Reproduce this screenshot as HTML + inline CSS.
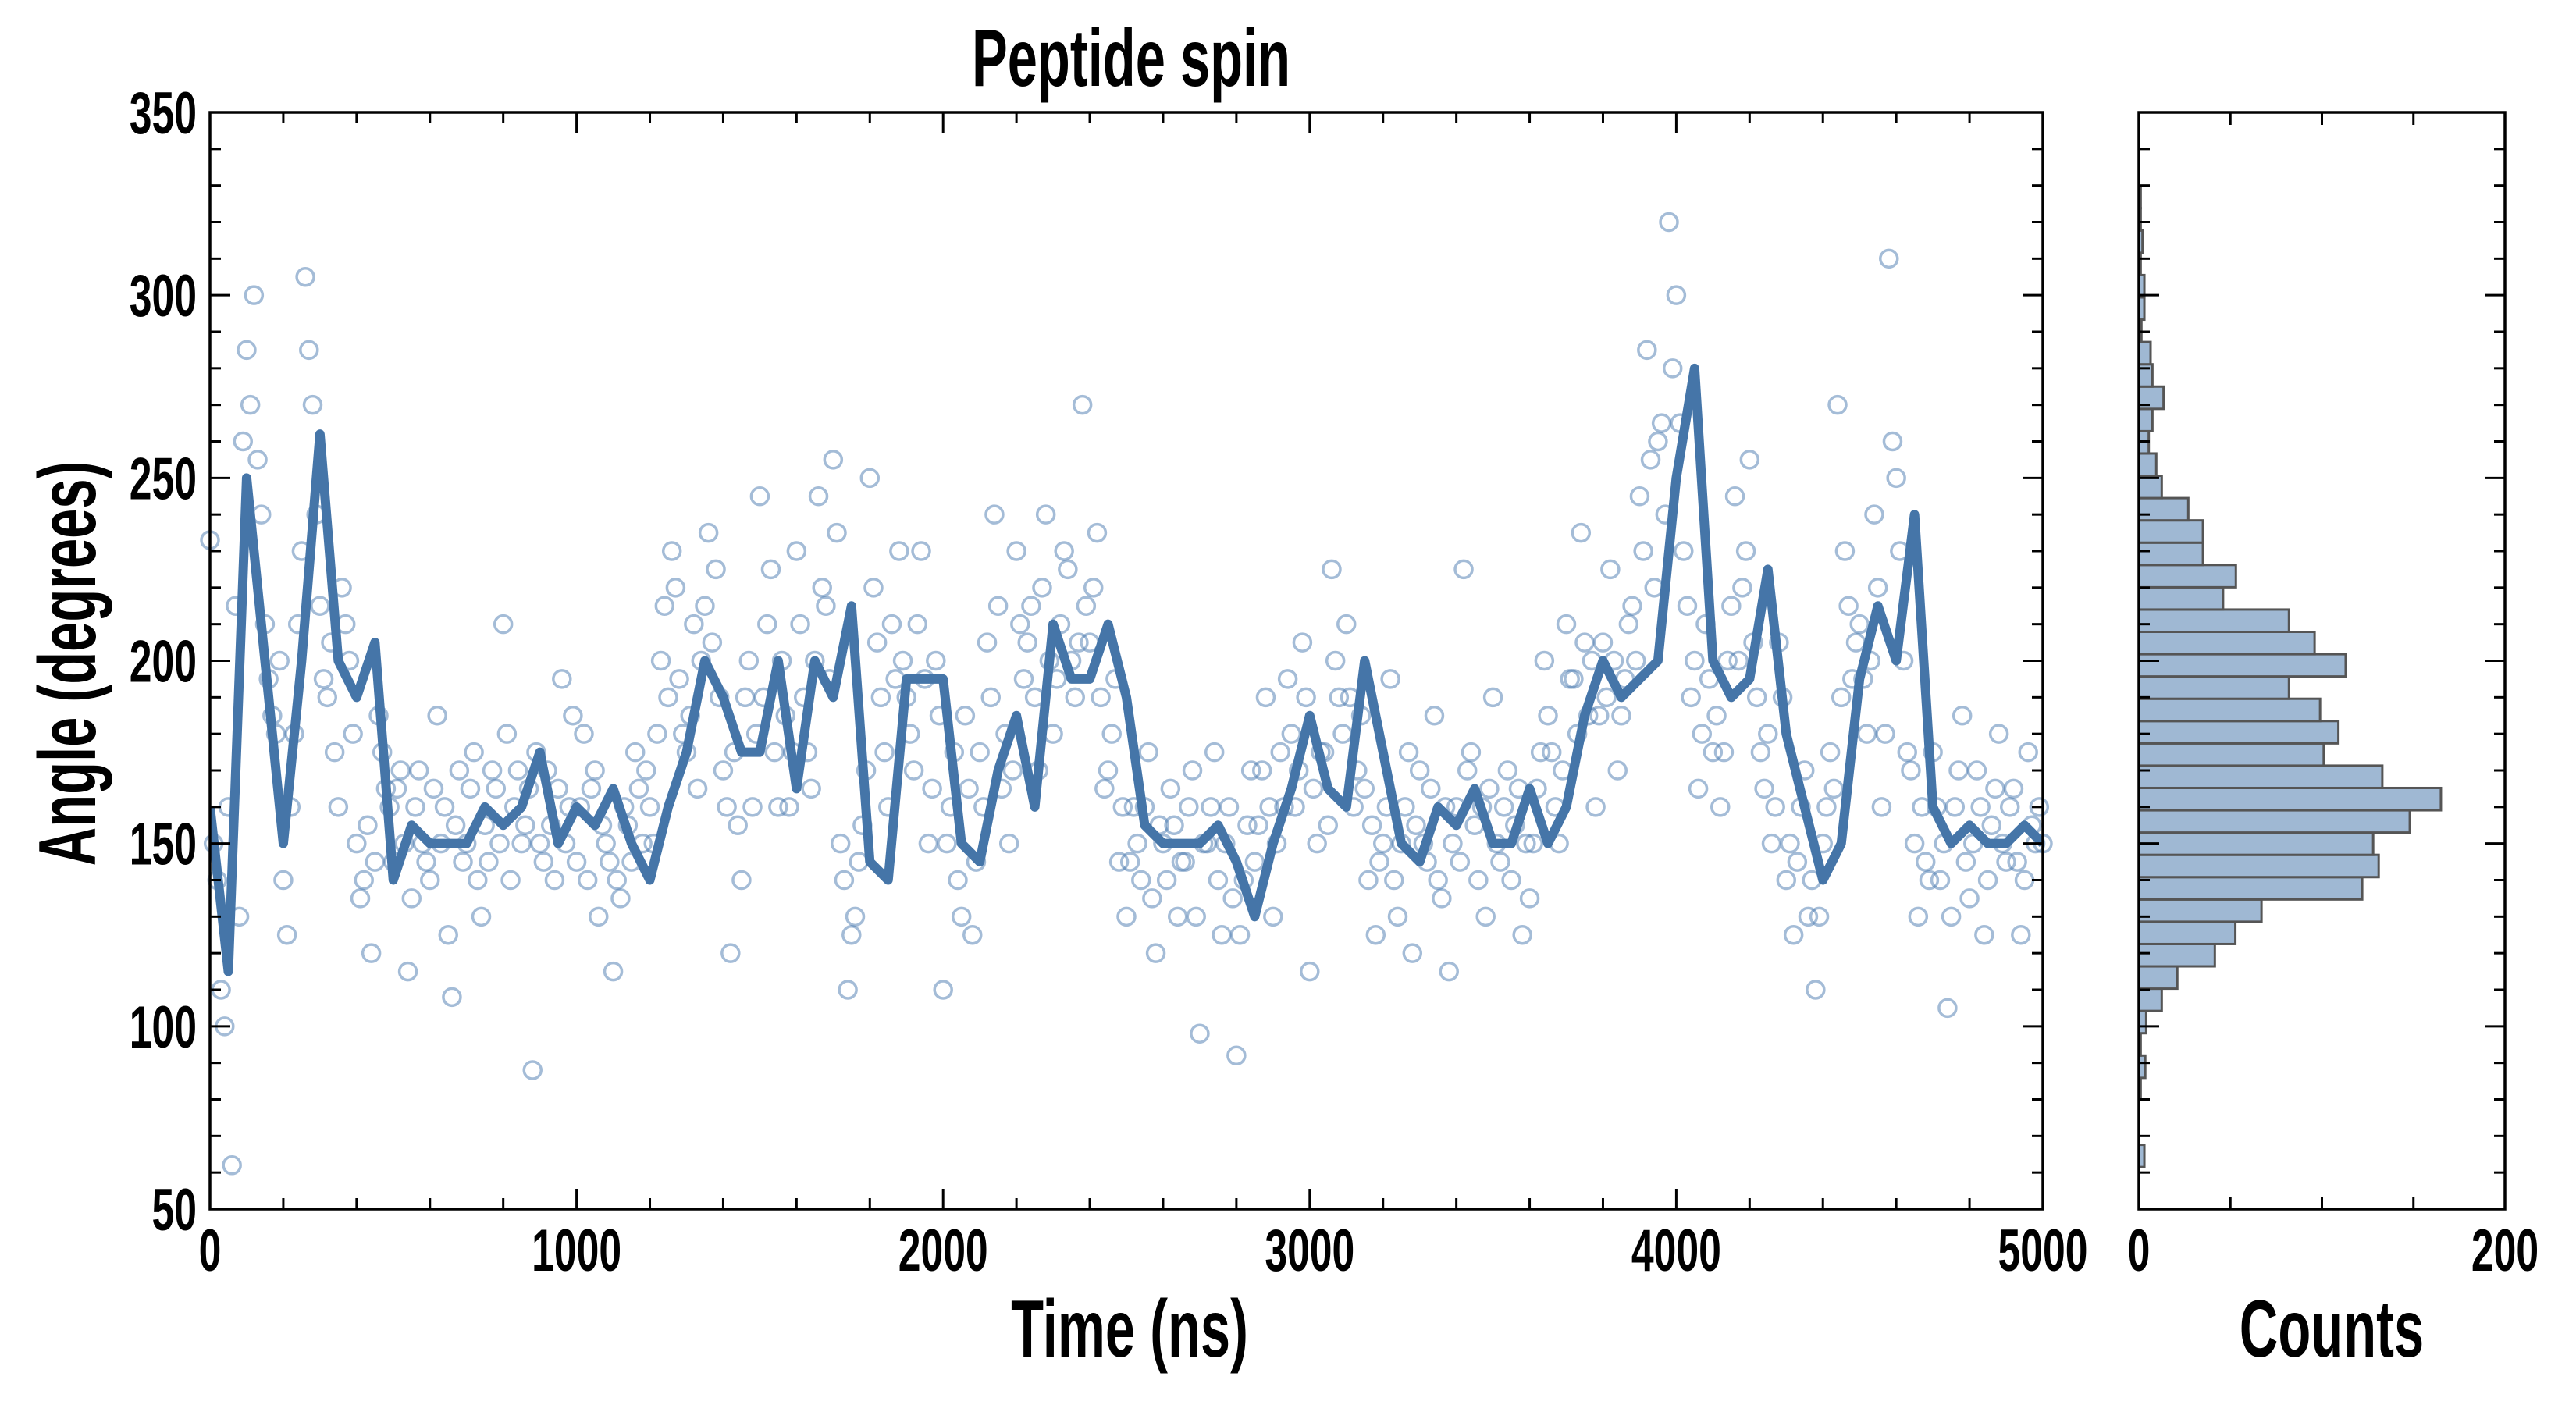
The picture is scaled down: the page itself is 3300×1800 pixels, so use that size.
<!DOCTYPE html>
<html><head><meta charset="utf-8"><style>
html,body{margin:0;padding:0;background:#fff;}
svg{display:block;}
text{font-family:"Liberation Sans",sans-serif;font-weight:bold;fill:#000;}
</style></head><body>
<svg id="chart" width="3300" height="1800" viewBox="0 0 3300 1800">
<defs><clipPath id="plotclip"><rect x="269" y="144" width="2348" height="1405"/></clipPath></defs>
<text transform="translate(1449,110) scale(0.66,1)" font-size="104" text-anchor="middle">Peptide spin</text>
<text transform="translate(1447,1738) scale(0.66,1)" font-size="104" text-anchor="middle">Time (ns)</text>
<text transform="translate(2987,1738) scale(0.66,1)" font-size="104" text-anchor="middle">Counts</text>
<text transform="translate(122,850) rotate(-90) scale(0.66,1)" font-size="104" text-anchor="middle">Angle (degrees)</text>
<g id="main"></g>
<g id="hist"></g>
</svg>
<script>
const lineTimesStep = 50;
const lineValues = [160,115,250,200,150,200,262,200,190,205,140,155,150,150,150,160,155,160,175,150,160,155,165,150,140,160,175,200,190,175,175,200,165,200,190,215,145,140,195,195,195,150,145,170,185,160,210,195,195,210,190,155,150,150,150,155,145,130,150,165,185,165,160,200,175,150,145,160,155,165,150,150,165,150,160,185,200,190,195,200,250,280,200,190,195,225,180,160,140,150,195,215,200,240,160,150,155,150,150,155,150];
const scatterStep = 20;
const scatterValues = [233,140,100,62,130,285,300,240,195,180,140,160,210,305,270,215,190,175,220,200,150,140,120,185,165,145,170,115,160,150,140,185,160,108,170,150,175,130,145,165,210,140,170,155,88,150,170,140,195,160,145,180,165,130,150,115,135,155,175,150,160,180,215,230,195,175,210,200,235,225,170,120,155,190,160,245,210,175,200,160,230,190,165,245,215,255,150,110,130,155,250,205,175,210,230,190,170,230,150,200,110,160,140,185,125,175,205,240,165,150,230,195,215,170,240,180,210,225,190,270,205,235,165,180,145,130,160,140,175,120,150,165,130,145,170,98,150,175,125,160,92,140,170,155,190,130,175,195,160,205,115,150,175,225,190,210,160,185,140,125,150,195,130,160,120,170,145,185,135,115,160,225,175,140,130,190,145,170,155,125,135,165,200,175,150,210,195,235,185,160,205,225,170,195,215,245,285,220,265,320,300,230,190,165,210,175,160,200,245,220,255,190,165,150,205,140,125,160,130,110,150,175,270,230,195,210,180,240,160,310,250,200,170,130,145,175,140,105,160,185,135,170,125,155,180,145,165,125,175,150,150];
const scatterValues2 = [150,110,160,215,260,270,255,210,185,200,125,180,230,285,240,195,205,160,210,180,135,155,145,175,160,165,150,135,170,145,165,150,125,155,145,165,140,155,170,150,180,160,150,165,175,145,155,165,150,185,160,140,170,155,145,140,160,145,165,170,150,200,190,220,180,185,165,215,205,190,160,175,140,200,180,190,225,160,185,175,210,175,200,220,195,235,140,125,145,170,220,190,160,195,200,180,210,195,165,185,150,175,130,165,145,160,190,215,180,170,210,205,190,220,200,195,230,200,205,215,220,190,170,195,160,145,150,160,135,155,140,155,145,160,130,150,160,140,150,135,125,155,145,170,160,150,160,180,170,190,165,175,155,200,180,190,170,165,155,145,160,140,150,175,155,150,165,140,160,150,145,170,155,160,165,150,160,140,165,150,150,175,185,160,170,195,180,205,200,185,190,200,185,210,200,230,255,260,240,280,265,215,200,180,195,185,175,215,200,230,205,175,180,160,190,150,145,170,140,130,160,165,190,215,205,195,200,220,180,260,230,175,150,160,140,160,150,130,170,145,150,160,140,165,150,160,145,140,155,160];
const histBinStart = 61.5;
const histBinWidth = 6.1;
const histCounts = [3,0,0,1,3.5,1,4,12.5,21,41.5,52.7,67,122,131,128,148,165,133,101,109,99,82,113,96,82,46,53,35,35,27,12.5,9.5,5.4,7.4,13.5,7.4,6.4,1.4,3,3,1,2,1,1];
const xTicks = [0,1000,2000,3000,4000,5000];
const yTicks = [50,100,150,200,250,300,350];
const histTicks = [0,200];

const NS="http://www.w3.org/2000/svg";
const L=269,R=2617,T=144,B=1549,HL=2740,HR=3209;
const xs=t=>L+(t/5000)*(R-L);
const ys=v=>B-((v-50)/300)*(B-T);
const hx=c=>HL+(c/200)*(HR-HL);
function mk(tag,attrs,parent){const e=document.createElementNS(NS,tag);for(const k in attrs)e.setAttribute(k,attrs[k]);parent.appendChild(e);return e;}
const main=document.getElementById('main');
const hist=document.getElementById('hist');

const sg=mk('g',{},main);


function drawScatter(arr,offset){
  arr.forEach((v,i)=>{
    const c=mk('circle',{cx:xs(i*scatterStep+offset),cy:ys(v),r:11,fill:'none',stroke:'#4a7ab0','stroke-opacity':0.5,'stroke-width':3.5},sg);
    
    
  });
}
drawScatter(scatterValues,0);
drawScatter(scatterValues2,10);

const pts=lineValues.map((v,i)=>xs(i*lineTimesStep)+','+ys(v)).join(' ');
const pl=mk('polyline',{points:pts,fill:'none',stroke:'#4575a8','stroke-width':12,'stroke-linejoin':'round','clip-path':'url(#plotclip)'},main);



histCounts.forEach((c,i)=>{
  const a0=histBinStart+i*histBinWidth,a1=a0+histBinWidth;
  if(c<=0)return;
  const r=mk('rect',{x:HL,y:ys(a1),width:hx(c)-HL,height:ys(a0)-ys(a1),fill:'#9fb8d3',stroke:'#555','stroke-width':3},hist);
  
  
});

function frame(x0,x1,parent,name){
  const f=mk('rect',{x:x0,y:T,width:x1-x0,height:B-T,fill:'none',stroke:'#000','stroke-width':3.5},parent);
  
  
  for(let v=50;v<=350;v+=10){
    const len=(v%50===0)?26:14,y=ys(v);
    mk('line',{x1:x0,y1:y,x2:x0+len,y2:y,stroke:'#000','stroke-width':3},parent);
    mk('line',{x1:x1,y1:y,x2:x1-len,y2:y,stroke:'#000','stroke-width':3},parent);
  }
}
frame(L,R,main,'main-axes-frame');
frame(HL,HR,hist,'hist-axes-frame');
for(let t=0;t<=5000;t+=200){
  const len=(t%1000===0)?26:14,x=xs(t);
  mk('line',{x1:x,y1:B,x2:x,y2:B-len,stroke:'#000','stroke-width':3},main);
  mk('line',{x1:x,y1:T,x2:x,y2:T+len,stroke:'#000','stroke-width':3},main);
}
for(let c=0;c<=200;c+=50){
  const x=hx(c);
  mk('line',{x1:x,y1:B,x2:x,y2:B-16,stroke:'#000','stroke-width':3},hist);
  mk('line',{x1:x,y1:T,x2:x,y2:T+16,stroke:'#000','stroke-width':3},hist);
}
xTicks.forEach(t=>{
  const e=mk('text',{transform:'translate('+xs(t)+',1628) scale(0.68,1)','font-size':76,'text-anchor':'middle'},main);
  e.textContent=t;
  
  
});
yTicks.forEach(v=>{
  const e=mk('text',{transform:'translate(252,'+(ys(v)+27)+') scale(0.68,1)','font-size':76,'text-anchor':'end'},main);
  e.textContent=v;
  
  
});
histTicks.forEach(c=>{
  const e=mk('text',{transform:'translate('+hx(c)+',1628) scale(0.68,1)','font-size':76,'text-anchor':'middle'},hist);
  e.textContent=c;
  
  
});
</script>
</body></html>
